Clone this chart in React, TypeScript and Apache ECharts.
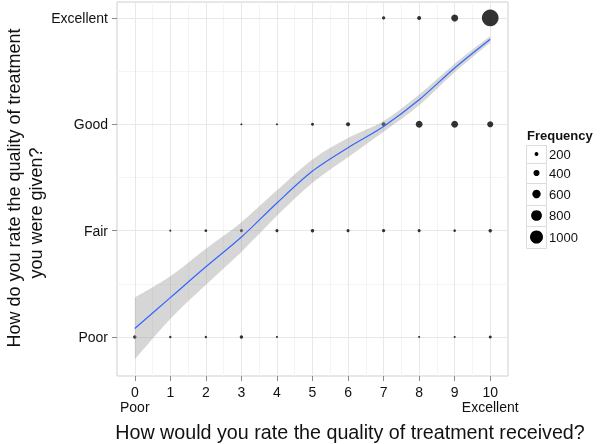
import React, { useEffect, useRef } from "react";
import * as echarts from "echarts";

// Ratings on the x-axis (0 = Poor ... 10 = Excellent)
const xRatings = [0, 1, 2, 3, 4, 5, 6, 7, 8, 9, 10];
const xTickLabels = ["0\nPoor", "1", "2", "3", "4", "5", "6", "7", "8", "9", "10\nExcellent"];

// Categories on the y-axis (plotted at 1..4)
const yLevels = ["Poor", "Fair", "Good", "Excellent"];
const yPositions = [1, 2, 3, 4];

// Frequencies per y-level, indexed by x rating (null = no observation)
const freqPoor = [170, 80, 80, 170, 50, null, null, null, 50, 50, 130];
const freqFair = [null, 50, 110, 130, 130, 170, 130, 150, 130, 90, 170];
const freqGood = [null, null, null, 50, 50, 130, 220, 220, 460, 460, 400];
const freqExcellent = [null, null, null, null, null, null, null, 150, 220, 480, 1320];

// Loess smooth fit and its confidence band
const smoothFit = [1.08, 1.37, 1.66, 1.94, 2.26, 2.56, 2.78, 2.98, 3.23, 3.53, 3.8];
const smoothLow = [0.79, 1.17, 1.49, 1.8, 2.14, 2.45, 2.69, 2.93, 3.18, 3.49, 3.77];
const smoothHigh = [1.37, 1.57, 1.83, 2.08, 2.38, 2.67, 2.87, 3.03, 3.28, 3.57, 3.83];

// Legend breaks
const legendBreaks = [200, 400, 600, 800, 1000];

const xMajor = [0, 1, 2, 3, 4, 5, 6, 7, 8, 9, 10];
const xMinor = [0.5, 1.5, 2.5, 3.5, 4.5, 5.5, 6.5, 7.5, 8.5, 9.5];
const yMajor = [1, 2, 3, 4];
const yMinor = [1.5, 2.5, 3.5];

const FONT = "'Liberation Sans', Arial, Helvetica, sans-serif";
const sizeOf = (f: number) => 1.5 + 0.0115 * f;

// smooth cubic path through pixel points (Catmull-Rom style)
function smoothSegments(pts: number[][], s: number, start: boolean): string {
  let d = start ? `M${pts[0][0]},${pts[0][1]}` : `L${pts[0][0]},${pts[0][1]}`;
  for (let i = 0; i < pts.length - 1; i++) {
    const p0 = pts[Math.max(i - 1, 0)];
    const p1 = pts[i];
    const p2 = pts[i + 1];
    const p3 = pts[Math.min(i + 2, pts.length - 1)];
    const c1x = p1[0] + (p2[0] - p0[0]) * s;
    const c1y = p1[1] + (p2[1] - p0[1]) * s;
    const c2x = p2[0] - (p3[0] - p1[0]) * s;
    const c2y = p2[1] - (p3[1] - p1[1]) * s;
    d += ` C${c1x},${c1y} ${c2x},${c2y} ${p2[0]},${p2[1]}`;
  }
  return d;
}

export default function App() {
  const ref = useRef<HTMLDivElement>(null);
  useEffect(() => {
    if (!ref.current) return;
    const chart = echarts.init(ref.current, null, { renderer: "svg" });

    const rows = [freqPoor, freqFair, freqGood, freqExcellent];
    const points: number[][] = [];
    rows.forEach((row, ri) => {
      row.forEach((f, xi) => {
        if (f != null) points.push([xRatings[xi], yPositions[ri], f]);
      });
    });

    const gridLines: any[] = [];
    xMinor.forEach((v) => gridLines.push({ xAxis: v, lineStyle: { color: "#f4f4f4", width: 1, type: "solid" } }));
    yMinor.forEach((v) => gridLines.push({ yAxis: v, lineStyle: { color: "#f4f4f4", width: 1, type: "solid" } }));
    xMajor.forEach((v) => gridLines.push({ xAxis: v, lineStyle: { color: "#e8e8e8", width: 1, type: "solid" } }));
    yMajor.forEach((v) => gridLines.push({ yAxis: v, lineStyle: { color: "#e8e8e8", width: 1, type: "solid" } }));

    // legend layout
    const legendRows = [
      [145, 163],
      [163, 183],
      [183, 205],
      [205, 226],
      [226, 248],
    ];
    const legendGraphics: any[] = [
      {
        type: "text",
        left: 527,
        top: 129,
        style: { text: "Frequency", font: `bold 13px ${FONT}`, fill: "#111" },
      },
    ];
    legendBreaks.forEach((b, i) => {
      const [t, btm] = legendRows[i];
      const cy = (t + btm) / 2;
      legendGraphics.push({
        type: "rect",
        shape: { x: 526.5, y: t + 0.5, width: 20, height: btm - t },
        style: { fill: "#fff", stroke: "#dcdcdc", lineWidth: 1 },
      });
      legendGraphics.push({
        type: "circle",
        shape: { cx: 536.5, cy, r: sizeOf(b) / 2 },
        style: { fill: "#000" },
      });
      legendGraphics.push({
        type: "text",
        x: 549,
        y: cy,
        style: { text: String(b), font: `13px ${FONT}`, fill: "#111", verticalAlign: "middle", align: "left" },
      });
    });

    const option: any = {
      animation: false,
      grid: {
        left: 117,
        top: 2,
        width: 391,
        height: 374,
        show: true,
        backgroundColor: "#fff",
        borderColor: "#cfcfcf",
        borderWidth: 1,
      },
      xAxis: {
        type: "value",
        min: -0.5,
        max: 10.5,
        axisLine: { show: false, onZero: false },
        splitLine: { show: false },
        axisTick: { show: true, customValues: xRatings, length: 5, lineStyle: { color: "#8a8a8a" } },
        axisLabel: {
          customValues: xRatings,
          formatter: (v: number) => xTickLabels[xRatings.indexOf(Math.round(v))] ?? "",
          fontSize: 14,
          lineHeight: 15,
          color: "#111",
          fontFamily: FONT,
          margin: 8,
        },
      },
      yAxis: {
        type: "value",
        min: 0.633,
        max: 4.15,
        axisLine: { show: false, onZero: false },
        splitLine: { show: false },
        axisTick: { show: true, customValues: yPositions, length: 5, lineStyle: { color: "#8a8a8a" } },
        axisLabel: {
          customValues: yPositions,
          formatter: (v: number) => yLevels[yPositions.indexOf(Math.round(v))] ?? "",
          fontSize: 14,
          color: "#111",
          fontFamily: FONT,
          margin: 9,
        },
      },
      series: [
        {
          type: "scatter",
          name: "Frequency",
          z: 1,
          data: points,
          symbolSize: (v: number[]) => sizeOf(v[2]),
          itemStyle: { color: "#000" },
          markLine: {
            silent: true,
            z: 0,
            symbol: ["none", "none"],
            label: { show: false },
            animation: false,
            data: gridLines,
          },
        },
        {
          type: "custom",
          name: "band",
          z: 2,
          silent: true,
          data: [[5, 2.5]],
          renderItem: (_params: any, api: any) => {
            const top = xRatings.map((x, i) => api.coord([x, smoothHigh[i]]));
            const bot = xRatings.map((x, i) => api.coord([x, smoothLow[i]])).reverse();
            const d = smoothSegments(top, 0.16, true) + " " + smoothSegments(bot, 0.16, false) + " Z";
            return {
              type: "path",
              shape: { pathData: d },
              style: { fill: "#999999", opacity: 0.4 },
            };
          },
        },
        {
          type: "line",
          name: "fit",
          z: 3,
          data: xRatings.map((x, i) => [x, smoothFit[i]]),
          smooth: 0.3,
          symbol: "none",
          lineStyle: { color: "#3366FF", width: 1.2 },
          silent: true,
        },
      ],
      graphic: [
        {
          type: "text",
          x: 350,
          y: 432,
          style: {
            text: "How would you rate the quality of treatment received?",
            font: `19.7px ${FONT}`,
            fill: "#111",
            align: "center",
            verticalAlign: "middle",
          },
        },
        {
          type: "text",
          x: 14,
          y: 188,
          rotation: Math.PI / 2,
          style: {
            text: "How do you rate the quality of treatment",
            font: `18px ${FONT}`,
            fill: "#111",
            align: "center",
            verticalAlign: "middle",
          },
        },
        {
          type: "text",
          x: 36,
          y: 213,
          rotation: Math.PI / 2,
          style: {
            text: "you were given?",
            font: `18px ${FONT}`,
            fill: "#111",
            align: "center",
            verticalAlign: "middle",
          },
        },
        ...legendGraphics,
      ],
    };

    chart.setOption(option);
    return () => chart.dispose();
  }, []);

  return <div ref={ref} style={{ position: "fixed", left: 0, top: 0, width: 600, height: 444 }} />;
}
